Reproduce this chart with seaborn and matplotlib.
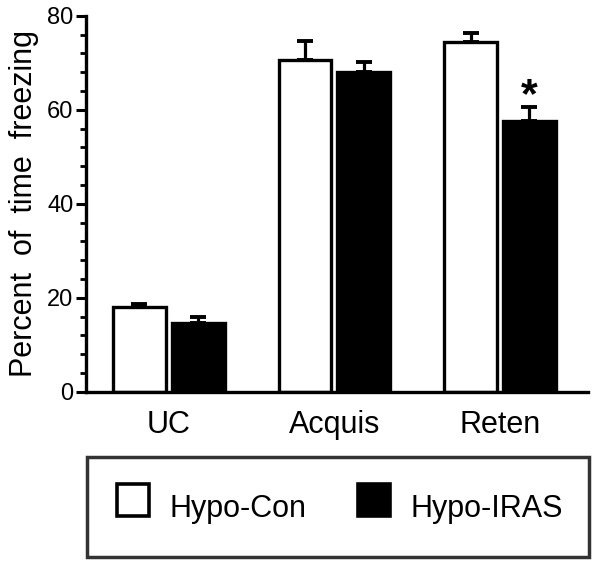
import pandas as pd
import matplotlib
matplotlib.use("Agg")
import matplotlib.pyplot as plt
from matplotlib.lines import Line2D
from matplotlib.ticker import MultipleLocator
import seaborn as sns

# dane
fazy = ['UC', 'Acquis', 'Reten']
grupy = ['Hypo-Con', 'Hypo-IRAS']
hypo_con = [18.0, 70.6, 74.4]
hypo_con_sem = [0.7, 4.0, 2.0]
hypo_iras = [14.6, 68.0, 57.6]
hypo_iras_sem = [1.4, 2.2, 2.9]
istotne = [(2, 1)]  # (faza, grupa) z gwiazdką

df = pd.DataFrame({
    'Faza': fazy * 2,
    'Grupa': [grupy[0]] * 3 + [grupy[1]] * 3,
    'Procent': hypo_con + hypo_iras,
})
sem = [hypo_con_sem, hypo_iras_sem]

sns.set_style('ticks')
plt.rcParams['font.family'] = ['Liberation Sans', 'DejaVu Sans']
plt.rcParams['text.color'] = 'black'
plt.rcParams['axes.labelcolor'] = 'black'
plt.rcParams['xtick.color'] = 'black'
plt.rcParams['ytick.color'] = 'black'
plt.rcParams['axes.edgecolor'] = 'black'

fig = plt.figure(figsize=(6.01, 5.63), dpi=100)
ax = fig.add_axes([0.143, 0.304, 0.835, 0.668])

sns.barplot(data=df, x='Faza', y='Procent', hue='Grupa', order=fazy, hue_order=grupy,
            palette=['white', 'black'], edgecolor='black', linewidth=2.4,
            width=0.71, gap=0.1, errorbar=None, legend=False, ax=ax)

# słupki błędów tylko w górę
kontenery = list(ax.containers)
for i, cont in enumerate(kontenery):
    for j, bar in enumerate(cont):
        x = bar.get_x() + bar.get_width() / 2
        y = bar.get_height()
        ax.errorbar(x, y, yerr=[[0], [sem[i][j]]], fmt='none', ecolor='black',
                    elinewidth=2.3, capsize=6, capthick=2.8, zorder=1)
        if (j, i) in istotne:
            ax.annotate('*', (x, y + sem[i][j]), xytext=(0, -6), textcoords='offset points',
                        ha='center', va='bottom', fontsize=31, fontweight='bold')

ax.set_ylim(0, 80)
ax.set_xlim(-0.5, 2.53)
ax.yaxis.set_major_locator(MultipleLocator(20))
ax.yaxis.set_minor_locator(MultipleLocator(4))
ax.tick_params(axis='y', which='major', length=7, width=2.2, labelsize=17, pad=2)
ax.tick_params(axis='y', which='minor', length=4, width=2.0)
ax.tick_params(axis='x', length=0, labelsize=22, pad=13)
for s in ['left', 'bottom']:
    ax.spines[s].set_linewidth(2.4)
sns.despine(ax=ax)
ax.set_xlabel('')
ax.set_ylabel('Percent  of  time  freezing', fontsize=22, labelpad=6)

# legenda w ramce pod wykresem
uchwyty = [Line2D([], [], linestyle='none', marker='s', markersize=22.5,
                  markerfacecolor=c, markeredgecolor='black', markeredgewidth=2.6)
           for c in ['white', 'black']]
leg = fig.legend(uchwyty, grupy, loc='center', bbox_to_anchor=(0.145, 0.0105, 0.835, 0.178),
                 mode='expand', ncol=2, fontsize=22, frameon=True, fancybox=False,
                 edgecolor='black', handlelength=1.3, handleheight=2.0, borderaxespad=0,
                 borderpad=0.85, columnspacing=1.5, handletextpad=0.55)
leg.get_frame().set_linewidth(2.5)

fig.savefig('out.png', dpi=100)
